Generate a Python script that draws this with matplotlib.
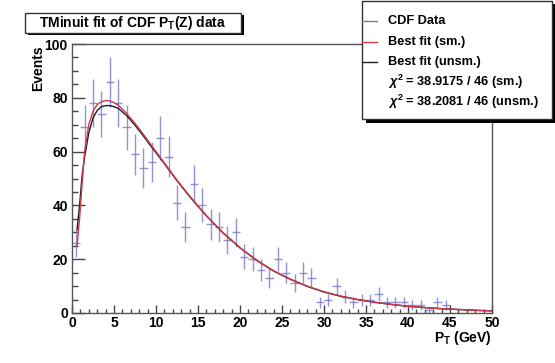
import numpy as np
import matplotlib
matplotlib.use('Agg')
import matplotlib.pyplot as plt
from matplotlib.patches import Rectangle

plt.rcParams['font.family'] = ['Liberation Sans', 'DejaVu Sans']
plt.rcParams['font.weight'] = 'bold'
plt.rcParams['mathtext.fontset'] = 'custom'
plt.rcParams['mathtext.rm'] = 'Liberation Sans:bold'
plt.rcParams['mathtext.it'] = 'Liberation Sans:bold:italic'
plt.rcParams['mathtext.bf'] = 'Liberation Sans:bold'

# ── data: CDF pT(Z) histogram (1 GeV bins) ───────────────────────────────────
bin_centers = np.arange(0.5, 45.0, 1.0)
counts = [26, 69, 78, 74, 86, 78, 69, 59, 54, 56,
          65, 58, 41, 32, 48, 40, 33, 32, 27, 30,
          21, 20, 16, 13, 20, 15, 11, 15, 13, 4,
          5, 10, 6, 4, 5, 5, 7, 4, 4, 4,
          3, 3, 1, 4, 3]

# ── fit curves ───────────────────────────────────────────────────────────────
fit_x = [0.6, 0.9, 1.2, 1.5, 2.0, 2.5, 3.0, 3.5, 4.0, 4.5, 5.0, 5.5, 6.5, 7.5,
         8.5, 9.5, 11, 12.5, 14, 16, 18, 20, 22, 24, 26, 28, 30, 32, 34, 36,
         38, 40, 42, 44, 46, 48, 50]
fit_sm = [25, 35, 48, 60, 70, 75, 77.5, 78.5, 79, 78.8, 78.2, 77.3, 74.2, 70.5,
          66.4, 62.1, 55.8, 49.4, 43.5, 36.2, 29.8, 24.3, 19.6, 15.7, 12.6, 10.0,
          7.9, 6.3, 5.0, 4.0, 3.2, 2.5, 2.0, 1.6, 1.3, 1.0, 0.8]
fit_unsm = [31, 40, 51, 58, 67, 72.5, 75.3, 76.7, 77.1, 77.1, 76.7, 76.1, 73.4, 69.8,
            65.8, 61.6, 55.5, 49.2, 43.3, 36.1, 29.7, 24.2, 19.5, 15.6, 12.5, 9.9,
            7.8, 6.2, 5.0, 4.0, 3.2, 2.5, 2.0, 1.6, 1.3, 1.0, 0.8]

legend_labels = ['CDF Data', 'Best fit (sm.)', 'Best fit (unsm.)',
                 r'$\chi^{\mathregular{2}}$ = 38.9175 / 46 (sm.)',
                 r'$\chi^{\mathregular{2}}$ = 38.2081 / 46 (unsm.)']

data_col = '#7878c8'
sm_col = '#d03848'
unsm_col = '#202020'

W, H = 555, 363
fig = plt.figure(figsize=(W / 100, H / 100), dpi=100)
fig.patch.set_facecolor('white')

ax = fig.add_axes([72 / W, 1 - 313 / H, 420 / W, 269 / H])
ax.errorbar(bin_centers, counts, yerr=np.sqrt(counts), xerr=0.5, fmt='none',
            ecolor=data_col, elinewidth=1.0, alpha=0.8, zorder=2)
ax.plot(fit_x, fit_unsm, color=unsm_col, lw=1.0, zorder=3)
ax.plot(fit_x, fit_sm, color=sm_col, lw=1.0, zorder=4)

ax.set_xlim(0, 50)
ax.set_ylim(0, 100)
ax.set_xticks(np.arange(0, 51, 5))
ax.set_xticks(np.arange(0, 51, 1), minor=True)
ax.set_yticks(np.arange(0, 101, 20))
ax.set_yticks(np.arange(0, 101, 5), minor=True)
ax.tick_params(axis='both', which='both', direction='in', top=False, right=False,
               labelsize=10, color='#444444')
ax.tick_params(axis='y', which='major', length=9.4, width=1, pad=3)
ax.tick_params(axis='y', which='minor', length=4.3, width=1)
ax.tick_params(axis='x', which='major', length=5.8, width=1, pad=2)
ax.tick_params(axis='x', which='minor', length=2.9, width=1)
for lab in ax.get_xticklabels() + ax.get_yticklabels():
    lab.set_fontweight('bold')
for s in ax.spines.values():
    s.set_color('#555555')
    s.set_linewidth(1.0)

# ── overlay in pixel coordinates for boxes and labels ────────────────────────
ov = fig.add_axes([0, 0, 1, 1], facecolor='none')
ov.set_xlim(0, W)
ov.set_ylim(H, 0)
ov.axis('off')

ov.text(38, 45, 'Events', rotation=90, ha='center', va='top', fontsize=10,
        fontweight='bold')
ov.text(492, 338, r'P$_{\mathregular{T}}$ (GeV)', ha='right', va='center', fontsize=10,
        fontweight='bold')

# title box with shadow
ov.add_patch(Rectangle((28, 15), 216, 20, facecolor='black', edgecolor='none', zorder=5))
ov.add_patch(Rectangle((25, 12.5), 216, 20, facecolor='white', edgecolor='#333333',
                       lw=1.0, zorder=6))
ov.text(133, 22.5, r'TMinuit fit of CDF P$_{\mathregular{T}}$(Z) data', ha='center',
        va='center', fontsize=10, fontweight='bold', zorder=7)

# legend box with shadow
ov.add_patch(Rectangle((366, 4), 190, 119, facecolor='black', edgecolor='none', zorder=5))
ov.add_patch(Rectangle((362, 0.5), 190, 118, facecolor='white', edgecolor='#333333',
                       lw=1.0, zorder=6))
rows = [20.5, 41.5, 62, 82, 102]
line_cols = [data_col, sm_col, unsm_col]
for i, lab in enumerate(legend_labels):
    if i < 3:
        ov.plot([362, 377], [rows[i], rows[i]], color=line_cols[i], lw=1.0, zorder=7)
    ov.text(388, rows[i], lab, ha='left', va='center', fontsize=9.2,
            fontweight='bold', zorder=7)

fig.savefig('out.png', dpi=100, facecolor='white')
